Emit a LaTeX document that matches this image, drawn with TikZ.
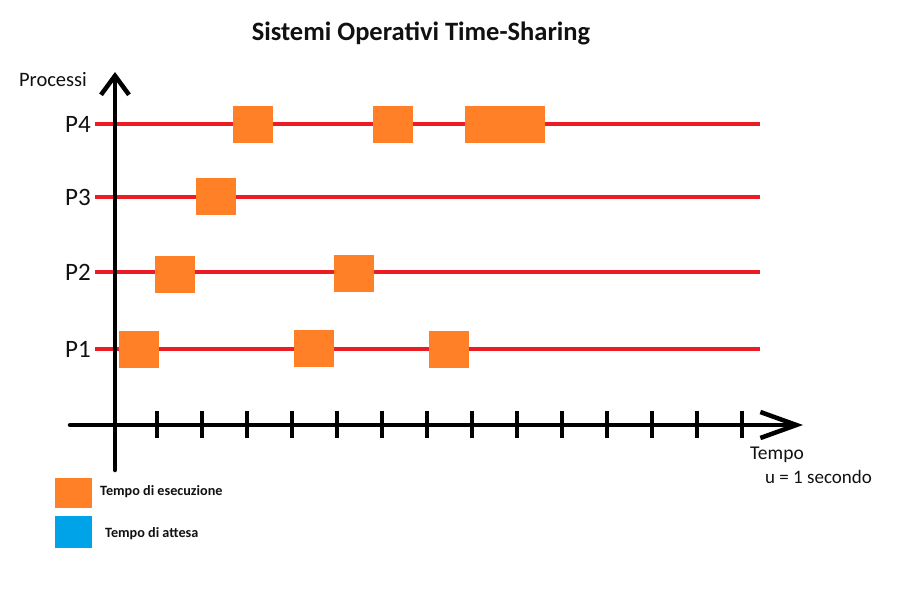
\documentclass[tikz,border=0pt]{standalone}
\usepackage{fontspec}
\setmainfont{Carlito}
\usepackage{tikz}
\usetikzlibrary{arrows.meta, positioning}
\definecolor{paintred}{HTML}{ED1C24}
\definecolor{paintorange}{HTML}{FF8027}
\definecolor{paintblue}{HTML}{00A2E8}
\definecolor{ink}{HTML}{111111}
\tikzset{
  axis/.style={draw=black, line width=4.5pt, line cap=round},
  tickmark/.style={draw=black, line width=4pt},
  procline/.style={draw=paintred, line width=4.5pt},
  %
  exec/.style={fill=paintorange, draw=none, inner sep=0pt,
               minimum width=40pt, minimum height=37pt, anchor=west},
  wait/.style={exec, fill=paintblue},
  %
  plabel/.style={font=\fontsize{25}{29}\selectfont, text=ink, anchor=east, inner sep=1pt},
  axlabel/.style={font=\fontsize{20.5}{24}\selectfont, text=ink, inner sep=1pt},
  legend/.style={font=\fontsize{14.2}{17}\selectfont\bfseries, text=ink,
                 anchor=west, inner sep=0pt},
}
\begin{document}
\begin{tikzpicture}[x=1pt, y=-1pt]
  \useasboundingbox[fill=white] (0,0) rectangle (923,610);

  % title
  \node[font=\fontsize{26.5}{30}\selectfont\bfseries, text=ink] (title) at (421,33)
    {Sistemi Operativi Time-Sharing};

  % =======================================================================
  % process lines
  % =======================================================================
  \foreach \p/\y in {4/124, 3/197, 2/272, 1/349} {
    \node[plabel] (P\p) at (92,\y) {P\p};
    \coordinate (s\p) at (95,\y);
    \coordinate (e\p) at (760,\y);
    \draw[procline] (s\p) -- (e\p);
  }

  % execution slices
  \node[exec] (p4a) at (233,124) {};
  \node[exec] (p4b) at (373,124) {};
  \node[exec, minimum width=80pt] (p4c) at (465,124) {};
  \node[exec] (p3a) at (196,196) {};
  \node[exec] (p2a) at (155,274) {};
  \node[exec] (p2b) at (334,273) {};
  \node[exec] (p1a) at (119,349) {};
  \node[exec] (p1b) at (294,348) {};
  \node[exec] (p1c) at (429,349) {};

  % =======================================================================
  % axes
  % =======================================================================
  \coordinate (origin) at (115,425);
  \coordinate (ybot) at (115,470);
  \coordinate (ytop) at (115,72);
  \coordinate (xleft) at (70,425);
  \coordinate (xright) at (803,425);
  \draw[axis, -{Straight Barb[length=19pt, width=28pt]}] (ybot) -- (ytop);
  \draw[axis, -{Straight Barb[length=36pt, width=26pt]}] (xleft) -- (xright);
  \foreach \k in {0,...,13} {
    \coordinate (ta\k) at (157+45*\k,411);
    \coordinate (tb\k) at (157+45*\k,438);
    \draw[tickmark] (ta\k) -- (tb\k);
  }

  \node[axlabel] (procs) at (53,80) {Processi};
  \node[axlabel, anchor=west, font=\fontsize{19.5}{23}\selectfont] (tempo)
    at (749,455) {Tempo};
  \node[axlabel, anchor=west, font=\fontsize{19}{23}\selectfont] (unit)
    at (764,477) {u = 1 secondo};

  % =======================================================================
  % legend
  % =======================================================================
  \node[exec, minimum width=37pt, minimum height=30pt] (kexec) at (55,493) {};
  \node[legend] (kexectxt) at (100,492) {Tempo di esecuzione};
  \node[wait, minimum width=37pt, minimum height=32pt] (kwait) at (55,532) {};
  \node[legend] (kwaittxt) at (105,534) {Tempo di attesa};

\end{tikzpicture}
\end{document}
